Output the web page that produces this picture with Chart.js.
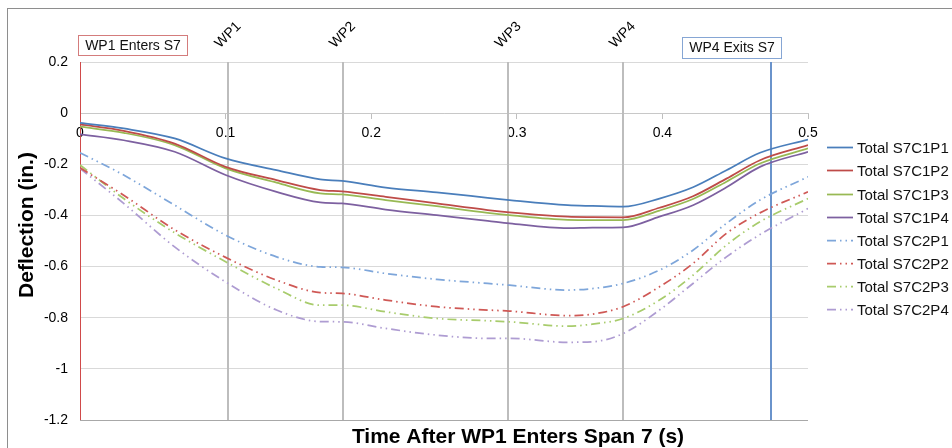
<!DOCTYPE html>
<html><head><meta charset="utf-8">
<script src="https://cdn.jsdelivr.net/npm/chart.js@4/dist/chart.umd.min.js"></script>
<style>html,body{margin:0;padding:0;background:#fff;}#wrap{width:952px;height:448px;position:relative}</style>
</head><body><div id="wrap"><canvas id="c" width="952" height="448"></canvas></div>
<script>
// ---- data ----
const times = [0, 0.03, 0.065, 0.1, 0.135, 0.165, 0.18, 0.21, 0.245, 0.28, 0.295, 0.335, 0.352, 0.373, 0.398, 0.421, 0.444, 0.467, 0.5];
const seriesNames = ['Total S7C1P1','Total S7C1P2','Total S7C1P3','Total S7C1P4','Total S7C2P1','Total S7C2P2','Total S7C2P3','Total S7C2P4'];
const c1p1 = [-0.038,-0.060,-0.099,-0.177,-0.223,-0.259,-0.265,-0.291,-0.310,-0.331,-0.340,-0.360,-0.363,-0.366,-0.334,-0.290,-0.223,-0.155,-0.103];
const c1p2 = [-0.044,-0.069,-0.119,-0.210,-0.262,-0.301,-0.306,-0.327,-0.353,-0.379,-0.388,-0.405,-0.407,-0.408,-0.370,-0.325,-0.256,-0.184,-0.125];
const c1p3 = [-0.053,-0.077,-0.125,-0.216,-0.272,-0.314,-0.318,-0.340,-0.364,-0.390,-0.399,-0.417,-0.418,-0.418,-0.381,-0.336,-0.268,-0.197,-0.138];
const c1p4 = [-0.083,-0.106,-0.151,-0.242,-0.308,-0.349,-0.353,-0.377,-0.399,-0.421,-0.431,-0.450,-0.448,-0.447,-0.405,-0.360,-0.290,-0.210,-0.151];
const c2p1 = [-0.155,-0.242,-0.360,-0.477,-0.562,-0.601,-0.603,-0.627,-0.650,-0.666,-0.673,-0.692,-0.686,-0.666,-0.614,-0.536,-0.431,-0.340,-0.249];
const c2p2 = [-0.214,-0.321,-0.456,-0.564,-0.653,-0.702,-0.705,-0.731,-0.757,-0.770,-0.774,-0.792,-0.786,-0.757,-0.679,-0.588,-0.470,-0.390,-0.308];
const c2p3 = [-0.203,-0.334,-0.468,-0.581,-0.686,-0.751,-0.751,-0.777,-0.803,-0.812,-0.816,-0.833,-0.825,-0.803,-0.731,-0.634,-0.516,-0.425,-0.334];
const c2p4 = [-0.216,-0.353,-0.523,-0.660,-0.770,-0.815,-0.816,-0.842,-0.868,-0.881,-0.881,-0.896,-0.894,-0.862,-0.770,-0.666,-0.562,-0.475,-0.373];
const xTickLabels = ['0','0.1','0.2','0.3','0.4','0.5'];
const yTickLabels = ['-1.2','-1','-0.8','-0.6','-0.4','-0.2','0','0.2'];
const wpNames = ['WP1','WP2','WP3','WP4'];
const wpTimes = [0.1017, 0.1804, 0.2942, 0.3727];
const enterTime = 0, exitTime = 0.4746;
const enterLabel = 'WP1 Enters S7', exitLabel = 'WP4 Exits S7';
const xTitle = 'Time After WP1 Enters Span 7 (s)';
const yTitle = 'Deflection (in.)';

// ---- styles ----
const allValues = [c1p1,c1p2,c1p3,c1p4,c2p1,c2p2,c2p3,c2p4];
const colors = ['#4A7EBB','#BE4B48','#98B954','#7D60A0','#7EA6DA','#CF5855','#A8CC6C','#AE9CD2'];
const dashC2 = [9,4,1.5,4,1.5,4];

const datasets = allValues.map((vals, i) => ({
  label: seriesNames[i],
  data: times.map((t, j) => ({x: t, y: vals[j]})),
  borderColor: colors[i],
  backgroundColor: colors[i],
  borderWidth: 1.75,
  borderDash: i < 4 ? [] : dashC2,
  pointRadius: 0,
  fill: false,
  cubicInterpolationMode: 'monotone'
}));

const FONT = "'Liberation Sans', Arial, sans-serif";

const overlay = {
  id: 'overlay',
  beforeDatasetsDraw(chart) {
    const {ctx, chartArea, scales: {x}} = chart;
    ctx.save();
    ctx.strokeStyle = '#BDBDBD'; ctx.lineWidth = 2;
    wpTimes.forEach(t => {
      const px = Math.round(x.getPixelForValue(t));
      ctx.beginPath(); ctx.moveTo(px, chartArea.top); ctx.lineTo(px, chartArea.bottom); ctx.stroke();
    });
    let px = Math.round(x.getPixelForValue(enterTime)) + 0.5;
    ctx.strokeStyle = '#D04A4A'; ctx.lineWidth = 1;
    ctx.beginPath(); ctx.moveTo(px, chartArea.top); ctx.lineTo(px, chartArea.bottom); ctx.stroke();
    px = Math.round(x.getPixelForValue(exitTime));
    ctx.strokeStyle = '#6A93CB'; ctx.lineWidth = 2;
    ctx.beginPath(); ctx.moveTo(px, chartArea.top); ctx.lineTo(px, chartArea.bottom); ctx.stroke();
    ctx.restore();
  },
  afterDraw(chart) {
    const {ctx, scales: {x}} = chart;
    ctx.save();
    ctx.strokeStyle = '#8E8E8E'; ctx.lineWidth = 1;
    ctx.strokeRect(7.5, 8.5, 1200, 1200);
    ctx.fillStyle = '#000';
    ctx.font = '14px ' + FONT;
    ctx.textAlign = 'center'; ctx.textBaseline = 'middle';
    wpTimes.forEach((t, i) => {
      const px = x.getPixelForValue(t);
      ctx.save(); ctx.translate(px, 35); ctx.rotate(-Math.PI / 4);
      ctx.fillText(wpNames[i], 0, 0); ctx.restore();
    });
    const boxes = [
      {txt: enterLabel, x0: 78, y0: 35, w: 109, h: 20, col: '#D47C7C'},
      {txt: exitLabel, x0: 682, y0: 37, w: 99, h: 21, col: '#86A6D4'}
    ];
    boxes.forEach(b => {
      ctx.fillStyle = '#fff'; ctx.fillRect(b.x0, b.y0, b.w, b.h);
      ctx.strokeStyle = b.col; ctx.lineWidth = 1;
      ctx.strokeRect(b.x0 + 0.5, b.y0 + 0.5, b.w, b.h);
      ctx.fillStyle = '#111';
      ctx.fillText(b.txt, b.x0 + b.w / 2 + 0.5, b.y0 + b.h / 2 + 1);
    });
    ctx.font = 'bold 21px ' + FONT;
    ctx.fillStyle = '#000';
    ctx.fillText(xTitle, 518, 437);
    ctx.save(); ctx.translate(27, 225); ctx.rotate(-Math.PI / 2);
    ctx.fillText(yTitle, 0, 0); ctx.restore();
    ctx.font = '15px ' + FONT;
    ctx.textAlign = 'left';
    chart.data.datasets.forEach((ds, i) => {
      const y = Math.round(147.3 + i * 23.1) + 0.5;
      ctx.strokeStyle = ds.borderColor; ctx.lineWidth = ds.borderWidth;
      ctx.setLineDash(ds.borderDash || []);
      ctx.beginPath(); ctx.moveTo(827, y); ctx.lineTo(853, y); ctx.stroke();
      ctx.setLineDash([]);
      ctx.fillStyle = '#111';
      ctx.fillText(ds.label, 857, y + 1);
    });
    ctx.restore();
  }
};

new Chart(document.getElementById('c'), {
  type: 'line',
  data: {datasets},
  options: {
    responsive: false, animation: false, devicePixelRatio: 1,
    layout: {padding: {top: 62, right: 144, bottom: 28, left: 0}},
    plugins: {legend: {display: false}, tooltip: {enabled: false}, title: {display: false}},
    scales: {
      x: {
        type: 'linear', min: 0, max: 0.5, position: {y: 0},
        ticks: {stepSize: 0.1, color: '#000', font: {size: 14, family: FONT}, padding: 7, maxRotation: 0,
          callback: (v, i) => xTickLabels[i]},
        grid: {drawOnChartArea: false, drawTicks: true, tickLength: 5, color: '#BFBFBF'},
        border: {color: '#C8C8C8'}
      },
      y: {
        type: 'linear', min: -1.2, max: 0.2,
        ticks: {stepSize: 0.2, color: '#000', font: {size: 14, family: FONT}, padding: 12,
          callback: (v, i) => yTickLabels[i]},
        grid: {drawTicks: false, color: c => (c.tick && c.tick.value < -1.19) ? '#A8A8A8' : '#D9D9D9'},
        border: {display: false},
        afterFit: s => { s.width = 80; }
      }
    }
  },
  plugins: [overlay]
});
</script>
</body></html>
